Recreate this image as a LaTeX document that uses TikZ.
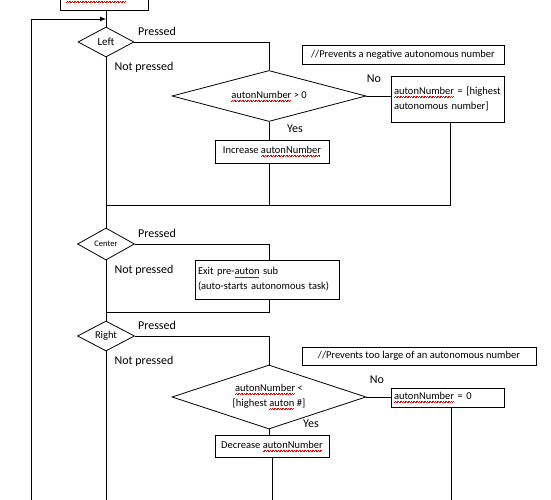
\documentclass[tikz,border=0pt]{standalone}
\usepackage{fontspec}
\setmainfont{Carlito}
\usetikzlibrary{shapes.geometric,arrows.meta,calc}
\newcommand\sq[1]{\setbox0\hbox{#1}\rlap{\color{red!85!black}\hbox to \wd0{\leaders\hbox to 1.6pt{\vrule height -2.3pt depth 2.75pt width 0.7pt\hfil\vrule height -1.7pt depth 2.15pt width 0.7pt}\hfill}}\box0\relax}
\begin{document}
\begin{tikzpicture}[x=1pt,y=-1pt, line width=0.8pt,
  box/.style={draw, rectangle, inner sep=2pt, font=\fontsize{10.5}{15}\selectfont},
  dec/.style={draw, diamond, inner sep=0pt, align=center, font=\fontsize{10.5}{15}\selectfont},
  lbl/.style={inner sep=1pt, font=\fontsize{12}{14}\selectfont},
  flow/.style={draw, line width=0.8pt}]
\useasboundingbox (0,0) rectangle (551,500);
% boxes
\node[box, minimum width=88, minimum height=27] (start) at (104,-3) {\sq{autonNumber} = 1};
\node[dec, aspect=1.87, minimum width=56, minimum height=30] (left) at (106,42) {\fontsize{11}{13}\selectfont Left};
\node[dec, aspect=3.8, minimum width=194, minimum height=51] (d1) at (269,96) {\sq{autonNumber} > 0};
\node[box, minimum width=202, minimum height=19] (c1) at (403,54.5) {//Prevents a negative autonomous number};
\node[box, minimum width=113, minimum height=46, text width=107, align=left] (high) at (447.5,99) {\sq{autonNumber} = [highest\\autonomous number]};
\node[box, minimum width=114, minimum height=23] (incr) at (272,151.5) {Increase \sq{autonNumber}};
\node[dec, aspect=1.8, minimum width=57, minimum height=32] (center) at (106,244) {\fontsize{8.5}{10}\selectfont Center};
\node[box, minimum width=144, minimum height=39, text width=138, align=left] (exit) at (267,279.5) {Exit pre-\sq{auton} sub\\(auto-starts autonomous task)};
\node[dec, aspect=1.9, minimum width=57, minimum height=30] (right) at (106,336) {\fontsize{10.5}{12}\selectfont Right};
\node[box, minimum width=234, minimum height=18] (c2) at (419,356) {//Prevents too large of an autonomous number};
\node[dec, aspect=3.03, minimum width=194, minimum height=64] (d2) at (269,397) {\sq{autonNumber} <\\{}[highest \sq{auton} \#]};
\node[box, minimum width=113, minimum height=19, text width=107, align=left] (zero) at (447.5,397.5) {\sq{autonNumber} = 0};
\node[box, minimum width=114, minimum height=22] (decr) at (272,446) {Decrease \sq{autonNumber}};
% coordinates
\coordinate (loopB) at (31,500);
\coordinate (loopT) at (31,19);
\coordinate (mainT) at (106,19);
\coordinate (j1) at (106,205);
\coordinate (j2) at (106,312);
\coordinate (bot) at (0,500);
% connectors
\draw[flow] (left.north |- start.south) -- (left.north);
\draw[flow, -{Latex[length=6pt,width=5pt]}] (loopB) -- (loopT) -- (mainT);
\draw[flow] (left.east) -- (left.east -| d1.north) -- (d1.north);
\draw[flow] (d1.east) -- (high.west |- d1.east);
\draw[flow] (d1.south) -- (d1.south |- incr.north);
\draw[flow] (d1.south |- incr.south) -- (d1.south |- j1);
\draw[flow] ([xshift=2.5pt]high.south) |- (j1);
\draw[flow] (left.south) -- (center.north);
\draw[flow] (center.east) -- (center.east -| d1.north) -- (d1.north |- exit.north);
\draw[flow] (d1.north |- exit.south) -- (d1.north |- j2) -- (j2);
\draw[flow] (center.south) -- (right.north);
\draw[flow] (right.east) -- (right.east -| d2.north) -- (d2.north);
\draw[flow] (d2.east) -- (zero.west |- d2.east);
\draw[flow] (d2.south) -- (d2.south |- decr.north);
\draw[flow] (decr.south) -- (decr.south |- bot);
\draw[flow] ([xshift=3.5pt]zero.south) -- ([xshift=3.5pt]zero.south |- bot);
\draw[flow] (right.south) -- (right.south |- bot);
% labels
\node[lbl] (p1) at (157,31) {Pressed};
\node[lbl] (n1) at (144,67) {Not pressed};
\node[lbl] (no1) at (374,79) {No};
\node[lbl] (y1) at (295,129) {Yes};
\node[lbl] (p2) at (157,233) {Pressed};
\node[lbl] (n2) at (144,270) {Not pressed};
\node[lbl] (p3) at (157,325) {Pressed};
\node[lbl] (n3) at (144,361) {Not pressed};
\node[lbl] (no2) at (377,380) {No};
\node[lbl, fill=white] (y2) at (311,424) {Yes};
\end{tikzpicture}
\end{document}
